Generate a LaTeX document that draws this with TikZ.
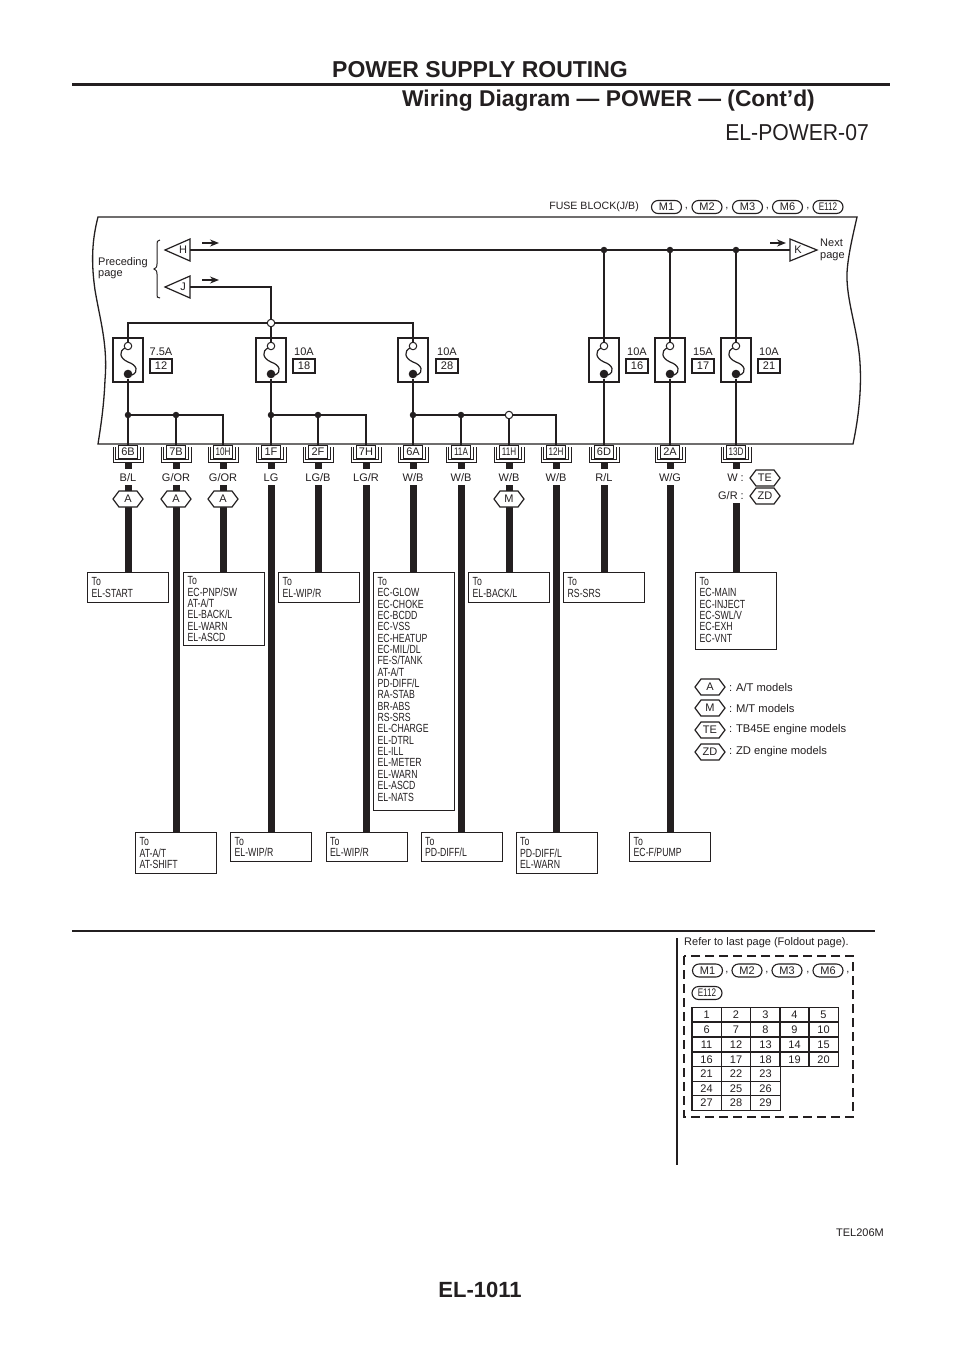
\documentclass[tikz,border=0pt]{standalone}
\usepackage{fontspec}
\setmainfont{Liberation Sans}
\newfontfamily\condfont[FakeStretch=0.74]{Liberation Sans}
\newfontfamily\headfont[FakeStretch=0.92]{Liberation Sans}
\usetikzlibrary{arrows.meta,shapes.misc}
\definecolor{inkblack}{HTML}{231F20}
\tikzset{
  thinwire/.style={line width=1.3pt,inkblack},
  harness/.style={line width=7pt,inkblack},
  wiretext/.style={font=\fontsize{11}{12}\selectfont,text=inkblack,inner sep=0pt},
  tobox/.style={draw=inkblack,line width=1.3pt,anchor=north west,minimum width=81pt,text width=73pt,inner sep=4pt,align=left,text=inkblack,font=\condfont\fontsize{11.8}{11.35}\selectfont},
  ratebox/.style={draw=inkblack,line width=1.1pt,minimum width=22pt,minimum height=14pt,inner sep=0pt,text=inkblack,font=\fontsize{11}{12}\selectfont},
  pillbox/.style={draw=inkblack,line width=1.1pt,rounded rectangle,minimum width=30pt,minimum height=13pt,inner sep=0pt,text=inkblack,font=\fontsize{11}{12}\selectfont},
  opendot/.style={circle,draw=inkblack,fill=white,line width=1pt,minimum size=7.5pt,inner sep=0pt},
  soliddot/.style={circle,fill=inkblack,minimum size=6.5pt,inner sep=0pt},
  flowtip/.style={-{Stealth[length=9pt,width=7pt]},line width=1.4pt,inkblack},
  tablecell/.style={draw=inkblack,line width=1.1pt,minimum width=29.3pt,minimum height=14.7pt,inner sep=0pt,text=inkblack,font=\fontsize{11}{12}\selectfont},
  pics/fuseunit/.style={code={
    \node[draw=inkblack,line width=1.3pt,minimum width=30pt,minimum height=44pt,inner sep=0pt] (-box) at (0,0) {};
    \draw[line width=1.2pt,inkblack] (-3,-12) .. controls (-9,-9) and (-9,-2) .. (0,2) .. controls (9,5) and (11,12) .. (4,15);
    \node[opendot] (-in) at (0,-14) {};
    \node[soliddot,minimum size=8.6pt] (-out) at (0,14) {};
  }},
  pics/connbox/.style={code={
    \node[draw=inkblack,line width=1pt,anchor=north,minimum width=19pt,minimum height=13pt,inner sep=0pt,text=inkblack,font=\fontsize{11}{12}\selectfont] (-tag) at (0,0) {#1};
    \draw[thinwire,line width=1pt] (-15,2)--(-15,17)--(15,17)--(15,2);
    \draw[thinwire,line width=1pt] (-12.5,2)--(-12.5,14)--(12.5,14)--(12.5,2);
    \fill[inkblack] (-3.5,17) rectangle (3.5,24);
    \coordinate (-pin) at (0,24);
  }},
  pics/hexmark/.style={code={
    \draw[line width=1.2pt,draw=inkblack,fill=white] (-15,0)--(-9,-8)--(9,-8)--(15,0)--(9,8)--(-9,8)--cycle;
    \node[wiretext] (-tag) at (0,0) {#1};
  }},
  pics/gateleft/.style={code={
    \draw[line width=1.2pt,draw=inkblack,fill=white] (-25,0)--(0,-11)--(0,11)--cycle;
    \node[wiretext] (-tag) at (-7,0) {#1};
    \coordinate (-pin) at (0,0);
  }},
  pics/gateright/.style={code={
    \draw[line width=1.2pt,draw=inkblack,fill=white] (27,0)--(0,-11)--(0,11)--cycle;
    \node[wiretext] (-tag) at (8,0) {#1};
    \coordinate (-pin) at (0,0);
  }},
}
\newcommand{\condtag}{\condfont}
\begin{document}
\begin{tikzpicture}[x=1pt,y=-1pt]
  \useasboundingbox (0,0) rectangle (960,1358);
  \fill[white] (0,0) rectangle (960,1358);
  % page heading
  \node[anchor=center,inner sep=0pt,text=inkblack,font=\bfseries\fontsize{23}{25}\selectfont] (headmain) at (480,69.5) {POWER SUPPLY ROUTING};
  \coordinate (ruleL) at (72,84.5);
  \coordinate (ruleR) at (890,84.5);
  \draw[line width=3.6pt,inkblack] (ruleL)--(ruleR);
  \node[anchor=east,inner sep=0pt,text=inkblack,font=\bfseries\fontsize{22.8}{25}\selectfont] (headsub) at (815,100.5) {Wiring Diagram — POWER — (Cont’d)};
  \node[anchor=east,inner sep=0pt,text=inkblack,font=\headfont\fontsize{23}{25}\selectfont] (headcode) at (869,133) {EL-POWER-07};

  % fuse block title
  \node[wiretext,anchor=east,font=\fontsize{10.6}{12}\selectfont] (blockname) at (639,207) {FUSE BLOCK(J/B)};
  \node[pillbox] (topM1) at (666.5,207) {M1};
  \node[wiretext] (comA) at (686.5,209) {,};
  \node[pillbox] (topM2) at (707,207) {M2};
  \node[wiretext] (comB) at (727,209) {,};
  \node[pillbox] (topM3) at (747.5,207) {M3};
  \node[wiretext] (comC) at (767.5,209) {,};
  \node[pillbox] (topM6) at (787.5,207) {M6};
  \node[wiretext] (comD) at (808,209) {,};
  \node[pillbox,font=\condfont\fontsize{11}{12}\selectfont] (topE) at (828,207) {E112};

  % outline with torn sides
  \draw[thinwire] (98,217) .. controls (92,240) and (91,262) .. (95,290) .. controls (100,320) and (108,345) .. (105,380) .. controls (104,405) and (101,425) .. (98,444) -- (853,444) .. controls (857,425) and (862,395) .. (860,363) .. controls (858,330) and (846,300) .. (847,273) .. controls (848,255) and (853,235) .. (857,217) -- cycle;

  % incoming and outgoing
  \node[wiretext,anchor=west,align=left,font=\fontsize{11}{11.5}\selectfont] (prevtext) at (98,268) {Preceding\\page};
  \draw[thinwire,line width=1pt] (160,240) .. controls (157,240) and (157,242) .. (157,245) -- (157,264) .. controls (157,267) .. (154,269) .. controls (157,271) .. (157,274) -- (157,294) .. controls (157,297) and (157,298) .. (160,298);
  \pic (gH) at (190,250) {gateleft=H};
  \pic (gJ) at (190,287) {gateleft=J};
  \pic (gK) at (790,250) {gateright=K};
  \node[wiretext,anchor=west,align=left,font=\fontsize{11}{11.5}\selectfont] (nexttext) at (820,250) {Next\\page};
  \coordinate (flowHa) at (202,243);
  \coordinate (flowHb) at (219,243);
  \coordinate (flowJa) at (202,280);
  \coordinate (flowJb) at (219,280);
  \coordinate (flowKa) at (770,243);
  \coordinate (flowKb) at (786,243);
  \draw[flowtip] (flowHa)--(flowHb);
  \draw[flowtip] (flowJa)--(flowJb);
  \draw[flowtip] (flowKa)--(flowKb);

  % fuses
  \pic (f12) at (128,360) {fuseunit};
  \pic (f18) at (271,360) {fuseunit};
  \pic (f28) at (413,360) {fuseunit};
  \pic (f16) at (604,360) {fuseunit};
  \pic (f17) at (670,360) {fuseunit};
  \pic (f21) at (736,360) {fuseunit};
  \node[wiretext] (amp12) at (161,352) {7.5A};
  \node[wiretext] (amp18) at (304,352) {10A};
  \node[wiretext] (amp28) at (447,352) {10A};
  \node[wiretext] (amp16) at (637,352) {10A};
  \node[wiretext] (amp17) at (703,352) {15A};
  \node[wiretext] (amp21) at (769,352) {10A};
  \node[ratebox] (num12) at (161,366) {12};
  \node[ratebox] (num18) at (304,366) {18};
  \node[ratebox] (num28) at (447,366) {28};
  \node[ratebox] (num16) at (637,366) {16};
  \node[ratebox] (num17) at (703,366) {17};
  \node[ratebox] (num21) at (769,366) {21};

  % connectors on the block edge
  \pic (c6B) at (128,445) {connbox=6B};
  \pic (c7B) at (176,445) {connbox=7B};
  \pic (c10H) at (223,445) {connbox={\condtag 10H}};
  \pic (c1F) at (271,445) {connbox=1F};
  \pic (c2F) at (318,445) {connbox=2F};
  \pic (c7H) at (366,445) {connbox=7H};
  \pic (c6A) at (413,445) {connbox=6A};
  \pic (c11A) at (461,445) {connbox={\condtag 11A}};
  \pic (c11H) at (509,445) {connbox={\condtag 11H}};
  \pic (c12H) at (556,445) {connbox={\condtag 12H}};
  \pic (c6D) at (604,445) {connbox=6D};
  \pic (c2A) at (670,445) {connbox=2A};
  \pic (c13D) at (736,445) {connbox={\condtag 13D}};

  % upper bus
  \node[soliddot] (busA) at (604,250) {};
  \node[soliddot] (busB) at (670,250) {};
  \node[soliddot] (busC) at (736,250) {};
  \draw[thinwire] (gH-pin)--(busA)--(busB)--(busC)--(gK-pin);
  \draw[thinwire] (busA)--(f16-in);
  \draw[thinwire] (busB)--(f17-in);
  \draw[thinwire] (busC)--(f21-in);
  \node[opendot] (feedJ) at (271,323) {};
  \draw[thinwire,line width=1.6pt] (gJ-pin)-|(feedJ);
  \draw[thinwire] (feedJ)--(f18-in);
  \draw[thinwire] (feedJ)-|(f12-in);
  \draw[thinwire] (feedJ)-|(f28-in);

  % lower branches
  \node[soliddot] (lowA) at (128,415) {};
  \node[soliddot] (lowB) at (176,415) {};
  \node[soliddot] (lowC) at (271,415) {};
  \node[soliddot] (lowD) at (318,415) {};
  \node[soliddot] (lowE) at (413,415) {};
  \node[soliddot] (lowF) at (461,415) {};
  \node[opendot] (lowG) at (509,415) {};
  \draw[thinwire] (f12-out)--(lowA)--(c6B-tag);
  \draw[thinwire] (lowA)--(lowB)--(c7B-tag);
  \draw[thinwire] (lowB)-|(c10H-tag);
  \draw[thinwire] (f18-out)--(lowC)--(c1F-tag);
  \draw[thinwire] (lowC)--(lowD)--(c2F-tag);
  \draw[thinwire] (lowD)-|(c7H-tag);
  \draw[thinwire] (f28-out)--(lowE)--(c6A-tag);
  \draw[thinwire] (lowE)--(lowF)--(c11A-tag);
  \draw[thinwire] (lowF)--(lowG)--(c11H-tag);
  \draw[thinwire] (lowG)-|(c12H-tag);
  \draw[thinwire] (f16-out)--(c6D-tag);
  \draw[thinwire] (f17-out)--(c2A-tag);
  \draw[thinwire] (f21-out)--(c13D-tag);

  % wire colours
  \node[wiretext] (colA) at (128,478) {B/L};
  \node[wiretext] (colB) at (176,478) {G/OR};
  \node[wiretext] (colC) at (223,478) {G/OR};
  \node[wiretext] (colD) at (271,478) {LG};
  \node[wiretext] (colE) at (318,478) {LG/B};
  \node[wiretext] (colF) at (366,478) {LG/R};
  \node[wiretext] (colG) at (413,478) {W/B};
  \node[wiretext] (colH) at (461,478) {W/B};
  \node[wiretext] (colI) at (509,478) {W/B};
  \node[wiretext] (colJ) at (556,478) {W/B};
  \node[wiretext] (colK) at (604,478) {R/L};
  \node[wiretext] (colL) at (670,478) {W/G};
  \node[wiretext,anchor=east] (colM) at (744,478) {W :};
  \node[wiretext,anchor=east] (colN) at (744,496) {G/R :};

  % destination boxes
  \node[tobox,minimum height=30pt] (toStart) at (87,572) {To\\EL-START};
  \node[tobox,minimum height=73pt] (toPnp) at (183,572) {To\\EC-PNP/SW\\AT-A/T\\EL-BACK/L\\EL-WARN\\EL-ASCD};
  \node[tobox,minimum height=30pt] (toWipA) at (278,572) {To\\EL-WIP/R};
  \node[tobox,minimum height=238pt] (toGlow) at (373,572) {To\\EC-GLOW\\EC-CHOKE\\EC-BCDD\\EC-VSS\\EC-HEATUP\\EC-MIL/DL\\FE-S/TANK\\AT-A/T\\PD-DIFF/L\\RA-STAB\\BR-ABS\\RS-SRS\\EL-CHARGE\\EL-DTRL\\EL-ILL\\EL-METER\\EL-WARN\\EL-ASCD\\EL-NATS\rule[-5pt]{0pt}{5pt}};
  \node[tobox,minimum height=30pt] (toBack) at (468,572) {To\\EL-BACK/L};
  \node[tobox,minimum height=30pt] (toSrs) at (563,572) {To\\RS-SRS};
  \node[tobox,minimum height=77pt] (toMain) at (695,572) {To\\EC-MAIN\\EC-INJECT\\EC-SWL/V\\EC-EXH\\EC-VNT\rule[-3pt]{0pt}{3pt}};
  \node[tobox,minimum height=41pt] (toShift) at (135,832) {To\\AT-A/T\\AT-SHIFT};
  \node[tobox,minimum height=29pt] (toWipB) at (230,832) {To\\EL-WIP/R};
  \node[tobox,minimum height=29pt] (toWipC) at (325.5,832) {To\\EL-WIP/R};
  \node[tobox,minimum height=29pt] (toDiff) at (420.5,832) {To\\PD-DIFF/L};
  \node[tobox,minimum height=41pt] (toWarn) at (515.5,832) {To\\PD-DIFF/L\\EL-WARN};
  \node[tobox,minimum height=29pt] (toPump) at (629,832) {To\\EC-F/PUMP};

  % harness runs
  \coordinate (runA) at (128,485);
  \coordinate (runB) at (176,485);
  \coordinate (runC) at (223,485);
  \coordinate (runD) at (271,485);
  \coordinate (runE) at (318,485);
  \coordinate (runF) at (366,485);
  \coordinate (runG) at (413,485);
  \coordinate (runH) at (461,485);
  \coordinate (runI) at (509,485);
  \coordinate (runJ) at (556,485);
  \coordinate (runK) at (604,485);
  \coordinate (runL) at (670,485);
  \coordinate (runM) at (736,503);
  \draw[harness] (runA)--(runA|-toStart.north);
  \draw[harness] (runB)--(runB|-toShift.north);
  \draw[harness] (runC)--(runC|-toPnp.north);
  \draw[harness] (runD)--(runD|-toWipB.north);
  \draw[harness] (runE)--(runE|-toWipA.north);
  \draw[harness] (runF)--(runF|-toWipC.north);
  \draw[harness] (runG)--(runG|-toGlow.north);
  \draw[harness] (runH)--(runH|-toDiff.north);
  \draw[harness] (runI)--(runI|-toBack.north);
  \draw[harness] (runJ)--(runJ|-toWarn.north);
  \draw[harness] (runK)--(runK|-toSrs.north);
  \draw[harness] (runL)--(runL|-toPump.north);
  \draw[harness] (runM)--(runM|-toMain.north);

  % option marks
  \pic (hexA) at (128,499) {hexmark=A};
  \pic (hexB) at (176,499) {hexmark=A};
  \pic (hexC) at (223,499) {hexmark=A};
  \pic (hexD) at (509,499) {hexmark=M};
  \pic (hexE) at (765,478) {hexmark=TE};
  \pic (hexF) at (765,496) {hexmark=ZD};

  % legend
  \pic (keyA) at (710,687) {hexmark=A};
  \pic (keyM) at (710,708) {hexmark=M};
  \pic (keyT) at (710,730) {hexmark=TE};
  \pic (keyZ) at (710,752) {hexmark=ZD};
  \node[wiretext,anchor=west,font=\fontsize{11.2}{12}\selectfont] (keyAtext) at (729,687) {:\,\,A/T models};
  \node[wiretext,anchor=west,font=\fontsize{11.2}{12}\selectfont] (keyMtext) at (729,708) {:\,\,M/T models};
  \node[wiretext,anchor=west,font=\fontsize{11.2}{12}\selectfont] (keyTtext) at (729,730) {:\,\,TB45E engine models};
  \node[wiretext,anchor=west,font=\fontsize{11.2}{12}\selectfont] (keyZtext) at (729,752) {:\,\,ZD engine models};

  % foldout reference
  \coordinate (splitL) at (72,931);
  \coordinate (splitR) at (875,931);
  \draw[thinwire] (splitL)--(splitR);
  \coordinate (stemT) at (677,938);
  \coordinate (stemB) at (677,1165);
  \draw[inkblack,line width=2.4pt] (stemT)--(stemB);
  \node[wiretext,anchor=west,font=\fontsize{11}{12}\selectfont] (refertext) at (684,943) {Refer to last page (Foldout page).};
  \draw[inkblack,line width=1.5pt,dashed,dash pattern=on 9pt off 5pt] (684,956) rectangle (853,1117);
  \node[pillbox] (lowM1) at (707.5,970.5) {M1};
  \node[wiretext] (comE) at (727,973) {,};
  \node[pillbox] (lowM2) at (747,970.5) {M2};
  \node[wiretext] (comF) at (767,973) {,};
  \node[pillbox] (lowM3) at (787,970.5) {M3};
  \node[wiretext] (comG) at (808,973) {,};
  \node[pillbox] (lowM6) at (828,970.5) {M6};
  \node[wiretext] (comH) at (848,973) {,};
  \node[pillbox,font=\condfont\fontsize{11}{12}\selectfont] (lowE) at (707,993) {E112};
  \foreach \cellno/\cellx/\celly in {1/706.6/1014.5,2/736/1014.5,3/765.5/1014.5,4/794.5/1014.5,5/823.5/1014.5,
      6/706.6/1029.5,7/736/1029.5,8/765.5/1029.5,9/794.5/1029.5,10/823.5/1029.5,
      11/706.6/1044.5,12/736/1044.5,13/765.5/1044.5,14/794.5/1044.5,15/823.5/1044.5,
      16/706.6/1059.5,17/736/1059.5,18/765.5/1059.5,19/794.5/1059.5,20/823.5/1059.5,
      21/706.6/1074,22/736/1074,23/765.5/1074,
      24/706.6/1088.5,25/736/1088.5,26/765.5/1088.5,
      27/706.6/1103,28/736/1103,29/765.5/1103}
    \node[tablecell] (cell\cellno) at (\cellx,\celly) {\cellno};

  % page foot
  \node[wiretext,anchor=east] (figcode) at (884,1233) {TEL206M};
  \node[inner sep=0pt,text=inkblack,font=\bfseries\fontsize{22}{24}\selectfont] (pageno) at (480,1290) {EL-1011};
\end{tikzpicture}
\end{document}
